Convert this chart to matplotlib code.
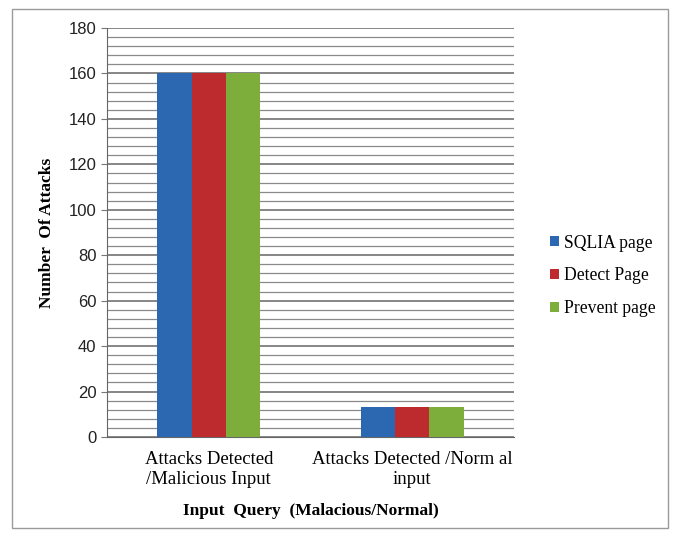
import matplotlib
matplotlib.use("Agg")
import matplotlib.pyplot as plt
import numpy as np
from matplotlib.patches import Rectangle

categories = ["Attacks Detected\n/Malicious Input", "Attacks Detected /Norm al\ninput"]
series_names = ["SQLIA page", "Detect Page", "Prevent page"]
sqlia = [160, 13]
detect = [160, 13]
prevent = [160, 13]
colors = ["#2C67B1", "#BE2B2E", "#7DAE3B"]
y_ticks = [0, 20, 40, 60, 80, 100, 120, 140, 160, 180]

fig = plt.figure(figsize=(6.77, 5.37), dpi=100)
fig.patches.append(Rectangle((12 / 677, 9 / 537), 656 / 677, 519 / 537,
                             transform=fig.transFigure, fill=False,
                             edgecolor="#9a9a9a", linewidth=1.0))
ax = fig.add_axes([107 / 677, 1 - 437 / 537, 407 / 677, 409 / 537])

x = np.arange(len(categories))
w = 0.169
for i, (vals, name) in enumerate(zip([sqlia, detect, prevent], series_names)):
    ax.bar(x + (i - 1) * w, vals, width=w, color=colors[i], label=name, zorder=3)

ax.set_xlim(-0.5, 1.5)
ax.set_ylim(0, 180)
ax.set_yticks(y_ticks)
ax.set_yticks(np.arange(0, 181, 4), minor=True)
ax.grid(axis="y", which="major", color="#666666", linewidth=1.1, zorder=0)
ax.grid(axis="y", which="minor", color="#8a8a8a", linewidth=0.9, zorder=0)
ax.tick_params(axis="y", which="minor", length=0)
ax.tick_params(axis="y", which="major", length=4, color="#777777",
               labelsize=12, labelcolor="#222222")
ax.tick_params(axis="x", length=0, pad=10)
ax.set_xticks(x)
ax.set_xticklabels(categories, family="Liberation Serif", fontsize=13.5,
                   linespacing=1.25)
for lab in ax.get_yticklabels():
    lab.set_family("Liberation Sans")
for s in ["top", "right"]:
    ax.spines[s].set_visible(False)
for s in ["left", "bottom"]:
    ax.spines[s].set_color("#666666")

ax.set_ylabel("Number  Of Attacks", family="Liberation Serif", fontweight="bold",
              fontsize=12.5, labelpad=10)
ax.set_xlabel("Input  Query  (Malacious/Normal)", family="Liberation Serif",
              fontweight="bold", fontsize=12.5, labelpad=11)

leg = fig.legend(loc="center left", bbox_to_anchor=(534 / 677, 1 - 276 / 537),
                 frameon=False, prop={"family": "Liberation Serif", "size": 12.7},
                 handlelength=0.5, handleheight=0.5, handletextpad=0.3,
                 labelspacing=0.9)

fig.savefig("out.png", dpi=100)
